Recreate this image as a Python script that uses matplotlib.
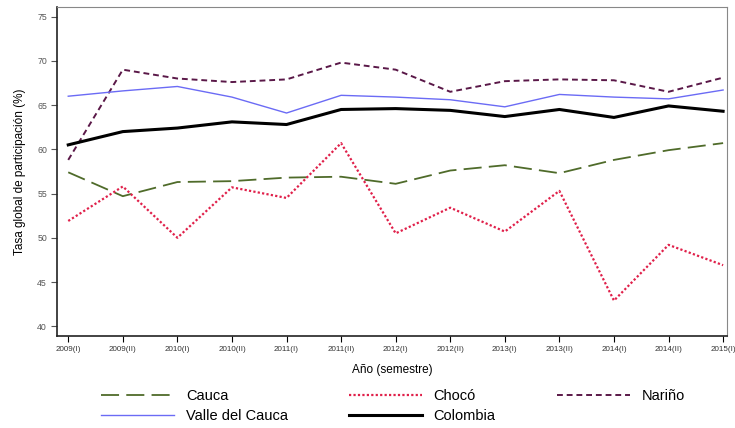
import matplotlib.pyplot as plt

plt.rcParams['font.family'] = ['Liberation Sans', 'DejaVu Sans']

# Semesters and participation rates (%)
semestres = ['2009(I)', '2009(II)', '2010(I)', '2010(II)', '2011(I)', '2011(II)',
             '2012(I)', '2012(II)', '2013(I)', '2013(II)', '2014(I)', '2014(II)', '2015(I)']
cauca = [57.4, 54.7, 56.3, 56.4, 56.8, 56.9, 56.1, 57.6, 58.2, 57.3, 58.8, 59.9, 60.7]
choco = [51.9, 55.8, 50.0, 55.7, 54.5, 60.7, 50.5, 53.4, 50.7, 55.3, 42.9, 49.2, 46.9]
narino = [58.8, 69.0, 68.0, 67.6, 67.9, 69.8, 69.0, 66.5, 67.7, 67.9, 67.8, 66.5, 68.1]
valle = [66.0, 66.6, 67.1, 65.9, 64.1, 66.1, 65.9, 65.6, 64.8, 66.2, 65.9, 65.7, 66.7]
colombia = [60.5, 62.0, 62.4, 63.1, 62.8, 64.5, 64.6, 64.4, 63.7, 64.5, 63.6, 64.9, 64.3]

x = list(range(len(semestres)))

fig = plt.figure(figsize=(7.35, 4.28), dpi=100)
ax = fig.add_axes([0.078, 0.215, 0.911, 0.769])

l_cauca, = ax.plot(x, cauca, color='#4f6b2a', lw=1.3, dashes=(10, 4), label='Cauca')
l_choco, = ax.plot(x, choco, color='#e0204a', lw=1.6, linestyle=(0, (1, 1)), label='Chocó')
l_narino, = ax.plot(x, narino, color='#5a1848', lw=1.4, dashes=(3, 2), label='Nariño')
l_valle, = ax.plot(x, valle, color='#6b6bf5', lw=1.0, label='Valle del Cauca')
l_col, = ax.plot(x, colombia, color='black', lw=2.2, label='Colombia')

ax.set_xlim(-0.2, 12.07)
ax.set_ylim(38.9, 76.1)
ax.set_xticks(x)
ax.set_xticklabels(semestres, fontsize=5.8, color='#333333')
ax.set_yticks([40, 45, 50, 55, 60, 65, 70, 75])
ax.tick_params(axis='y', labelsize=6.3, colors='#555555', length=4)
ax.tick_params(axis='x', length=4, pad=3)

for side in ['top', 'right']:
    ax.spines[side].set_color('#888888')
for side in ['left', 'bottom']:
    ax.spines[side].set_color('#222222')
    ax.spines[side].set_linewidth(1.2)

ax.set_xlabel('Año (semestre)', fontsize=8.5)
ax.xaxis.set_label_coords(0.5, -0.085)
ax.set_ylabel('Tasa global de participación (%)', fontsize=8.5)
ax.yaxis.set_label_coords(-0.047, 0.5)

fig.legend([l_cauca, l_valle, l_choco, l_col, l_narino],
           ['Cauca', 'Valle del Cauca', 'Chocó', 'Colombia', 'Nariño'],
           ncol=3, loc='lower left', bbox_to_anchor=(0.12, -0.02), frameon=False,
           fontsize=10.5, handlelength=5.0, handletextpad=0.8,
           columnspacing=4.2, labelspacing=0.45)

fig.savefig('out.png')
